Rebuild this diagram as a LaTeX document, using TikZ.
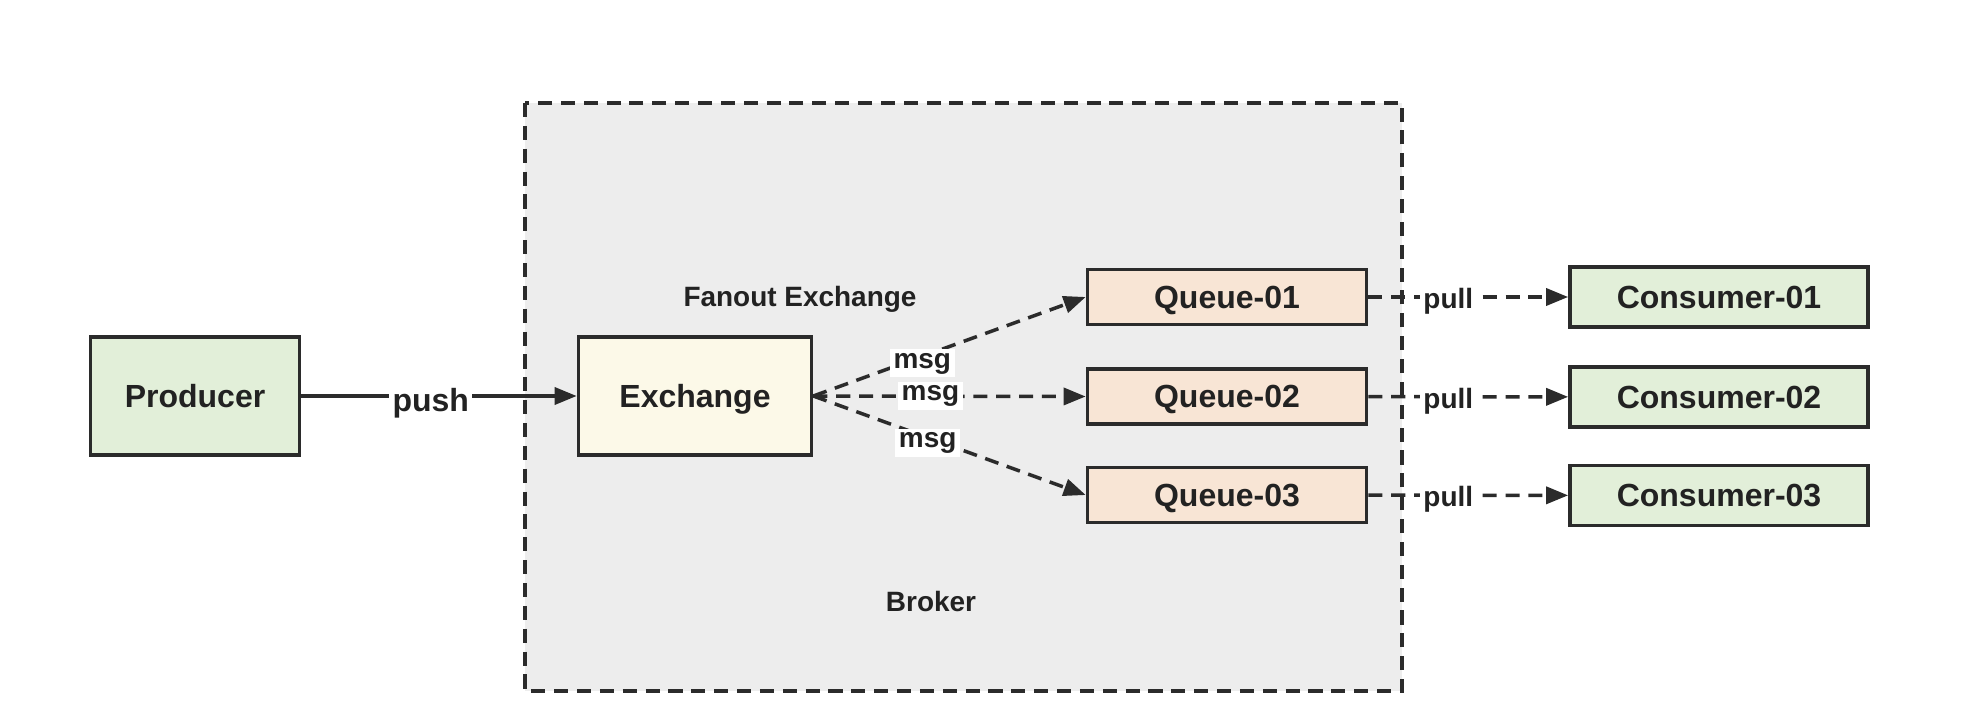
\documentclass[tikz,border=0pt]{standalone}
\usepackage{fontspec}
\setmainfont{Liberation Sans}
\usepackage{xcolor}
\usetikzlibrary{arrows.meta}
\definecolor{lineDark}{HTML}{2B2B2B}
\definecolor{textDark}{HTML}{222222}
\definecolor{greenFill}{HTML}{E2EFD9}
\definecolor{exchangeFill}{HTML}{FCF9E8}
\definecolor{queueFill}{HTML}{F8E5D5}
\definecolor{brokerFill}{HTML}{EDEDED}
\begin{document}
\begin{tikzpicture}[x=0.01cm,y=-0.01cm,
  box/.style={draw=lineDark,line width=1pt,inner sep=0pt,text depth=0pt,text=textDark,font=\fontsize{9.1}{11}\selectfont\bfseries},
  greenbox/.style={box,fill=greenFill},
  queuebox/.style={box,fill=queueFill,minimum width=2.79cm,minimum height=0.55cm},
  consumerbox/.style={greenbox,minimum width=2.98cm,minimum height=0.6cm},
  smalllabel/.style={text=textDark,inner sep=1pt,font=\fontsize{7.95}{9.5}\selectfont\bfseries},
  linelabel/.style={smalllabel,fill=white},
  arrowline/.style={draw=lineDark,line width=1pt,-{Triangle[length=0.22cm,width=0.17cm]}},
  dashline/.style={arrowline,dash pattern=on 4pt off 2.5pt}]
\useasboundingbox (0,0) rectangle (1978,706);
\draw[draw=lineDark,fill=brokerFill,line width=1pt,dash pattern=on 4pt off 2.5pt] (525,103) rectangle (1402,691);
\node[smalllabel] (fanout) at (800,299) {Fanout Exchange};
\node[smalllabel] (broker) at (931,602) {Broker};
\node[greenbox,minimum width=2.09cm,minimum height=1.18cm] (producer) at (195,396) {Producer};
\node[box,fill=exchangeFill,minimum width=2.33cm,minimum height=1.18cm] (exchange) at (695,396) {Exchange};
\node[queuebox] (queue1) at (1227,297) {Queue-01};
\node[queuebox] (queue2) at (1227,396.5) {Queue-02};
\node[queuebox] (queue3) at (1227,495) {Queue-03};
\node[consumerbox] (consumer1) at (1719,297) {Consumer-01};
\node[consumerbox] (consumer2) at (1719,397) {Consumer-02};
\node[consumerbox] (consumer3) at (1719,495.5) {Consumer-03};
\draw[arrowline] (producer) -- node[pos=0.47,fill=white,inner sep=1pt,text=textDark,font=\fontsize{9.1}{11}\selectfont\bfseries,yshift=-2pt] {push} (exchange);
\draw[dashline] (exchange.east) -- node[linelabel,pos=0.4,yshift=-2pt] {msg} (queue1.west);
\draw[dashline] (exchange.east) -- node[linelabel,pos=0.43] {msg} (queue2.west);
\draw[dashline] (exchange.east) -- node[linelabel,pos=0.42,yshift=-1.5pt] {msg} (queue3.west);
\draw[dashline] (queue1) -- node[linelabel,pos=0.4,yshift=-1.2pt] {pull} (consumer1);
\draw[dashline] (queue2) -- node[linelabel,pos=0.4,yshift=-1.2pt] {pull} (consumer2);
\draw[dashline] (queue3) -- node[linelabel,pos=0.4,yshift=-1.2pt] {pull} (consumer3);
\end{tikzpicture}
\end{document}
